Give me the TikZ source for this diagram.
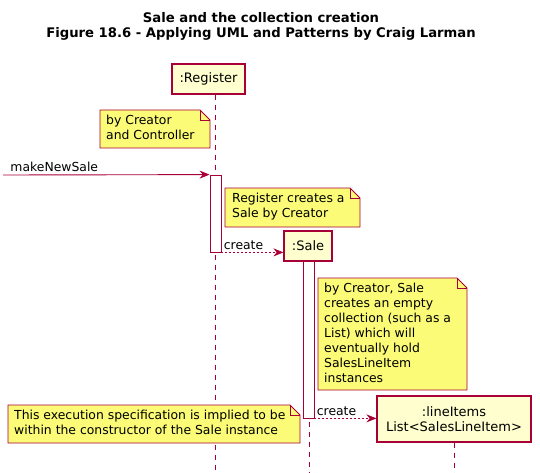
\documentclass[tikz,border=0pt]{standalone}
\usepackage{fontspec}
\setmainfont{DejaVu Sans}
\usetikzlibrary{arrows.meta,backgrounds,calc}
\definecolor{umlred}{HTML}{A80036}
\definecolor{partfill}{HTML}{FEFECE}
\definecolor{notefill}{HTML}{FBFB77}
\tikzset{
  part/.style={draw=umlred, line width=1.2pt, fill=partfill, inner sep=0pt, font=\fontsize{13}{15}\selectfont, align=center},
  actbar/.style={draw=umlred, line width=0.8pt, fill=white, minimum width=11pt, inner sep=0pt},
  lifeline/.style={draw=umlred, line width=0.8pt, dash pattern=on 5pt off 5pt},
  notetext/.style={inner sep=0pt, anchor=north west, font=\fontsize{12.4}{15}\selectfont, align=left},
  msg/.style={draw=umlred, line width=0.9pt, -{Stealth[length=10pt,width=8pt]}},
  retmsg/.style={msg, dash pattern=on 2pt off 2pt},
  msglabel/.style={font=\fontsize{12.4}{15}\selectfont, inner sep=1pt, anchor=south west},
}
\newcommand\drawnote[5]{% name, x1, y1, x2, y2
  \begin{scope}[on background layer]
  \filldraw[fill=notefill, draw=umlred, line width=0.8pt] (#2,#3) -- (#4-10,#3) -- (#4,#3+10) -- (#4,#5) -- (#2,#5) -- cycle;
  \draw[umlred, line width=0.8pt] (#4-10,#3) -- (#4-10,#3+10) -- (#4,#3+10);
  \end{scope}}
\begin{document}
\begin{tikzpicture}[x=1pt,y=-1pt]
\useasboundingbox (0,0) rectangle (540,473);
% title
\node[font=\bfseries\fontsize{13.2}{15}\selectfont, align=center] (title) at (261,26) {Sale and the collection creation\\Figure 18.6 - Applying UML and Patterns by Craig Larman};
% participants
\node[part, minimum width=73pt, minimum height=30pt] (reg) at (208.5,79) {:Register};
\node[part, minimum width=48pt, minimum height=30pt] (sale) at (308,246) {:Sale};
\node[part, minimum width=154pt, minimum height=46pt] (items) at (454,419) {:lineItems\\List<SalesLineItem>};
% lifelines
\coordinate (regend) at (215,473);
\coordinate (saleend) at (309,473);
\coordinate (itemsend) at (454,473);
\begin{scope}[on background layer]
\draw[lifeline] (reg.south -| regend) -- (regend);
\draw[lifeline] (sale.south -| saleend) -- (saleend);
\draw[lifeline] (items.south) -- (itemsend);
\end{scope}
% activations
\node[actbar, minimum height=77pt] (act1) at (215.5,213.5) {};
\node[actbar, minimum height=157pt] (act2) at (308.5,339.5) {};
% notes
\node[notetext] (n1) at (106,115) {by Creator\\and Controller};
\drawnote{n1}{100}{110}{210}{148}
\node[notetext] (n2) at (232,193) {Register creates a\\Sale by Creator};
\drawnote{n2}{225}{188}{360}{227}
\node[notetext] (n3) at (324,283) {by Creator, Sale\\creates an empty\\collection (such as a\\List) which will\\eventually hold\\SalesLineItem\\instances};
\drawnote{n3}{318}{278}{467}{390}
\node[notetext] (n4) at (14,410) {This execution specification is implied to be\\within the constructor of the Sale instance};
\drawnote{n4}{8}{405}{300}{443}
% messages
\coordinate (start) at (3,175);
\draw[msg] (start) -- (act1.north west) node[msglabel, pos=0, xshift=6pt, yshift=2pt] (l1) {makeNewSale};
\draw[retmsg] (act1.south east) -- (act1.south east -| sale.west) node[msglabel, pos=0, xshift=1pt, yshift=1pt] (l2) {create};
\draw[retmsg] (act2.south east) -- (act2.south east -| items.west) node[msglabel, pos=0, xshift=1pt, yshift=1pt] (l3) {create};
\end{tikzpicture}
\end{document}
